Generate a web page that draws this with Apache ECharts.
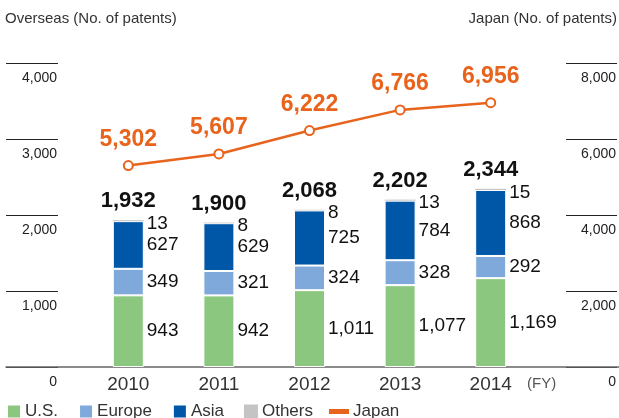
<!DOCTYPE html>
<html>
<head>
<meta charset="utf-8">
<script src="https://cdn.jsdelivr.net/npm/echarts@6/dist/echarts.min.js"></script>
<style>
  html, body { margin: 0; padding: 0; background: #fff; }
  #root { width: 619px; height: 418px; }
</style>
</head>
<body>
<div id="root"></div>
<script>
// data
const years = ['2010', '2011', '2012', '2013', '2014'];
const us = [943, 942, 1011, 1077, 1169];
const europe = [349, 321, 324, 328, 292];
const asia = [627, 629, 725, 784, 868];
const others = [13, 8, 8, 13, 15];
const japan = [5302, 5607, 6222, 6766, 6956];
const leftTicks = [0, 4000, 1000];   // min, max, interval
const rightTicks = [0, 8000, 2000];

const totals = years.map((y, i) => us[i] + europe[i] + asia[i] + others[i]);

const FONT = 'Liberation Sans, Arial, sans-serif';
const ORANGE = '#e8631c';
const fmt = v => Number(v).toLocaleString('en-US');

let root = document.getElementById('root');
let myChart = echarts.init(root);

const segLabel = {
    show: true,
    position: 'right',
    distance: 3,
    fontSize: 19,
    color: '#111',
    fontFamily: FONT,
    formatter: p => fmt(p.value)
};

let option = {
    animation: false,
    textStyle: { fontFamily: FONT },
    title: [
        { text: 'Overseas (No. of patents)', left: 5, top: 11, padding: 0,
          textStyle: { fontSize: 15, fontWeight: 'normal', color: '#333', fontFamily: FONT } },
        { text: 'Japan (No. of patents)', right: 2, top: 11, padding: 0,
          textStyle: { fontSize: 15, fontWeight: 'normal', color: '#333', fontFamily: FONT } }
    ],
    legend: [
        {
            data: ['U.S.', 'Europe', 'Asia', 'Others'],
            left: 6, top: 403, padding: 0,
            itemWidth: 14, itemHeight: 14, itemGap: 20,
            icon: 'rect',
            textStyle: { fontSize: 17, color: '#333', padding: [0, 0, 0, -1] }
        },
        {
            data: [{ name: 'Japan', icon: 'rect' }],
            left: 329, top: 403, padding: 0,
            itemWidth: 18, itemHeight: 3,
            textStyle: { fontSize: 17, color: '#333' }
        }
    ],
    grid: [
        { left: 83, right: 83, top: 63, bottom: 51 },          // bars + line
        { left: 6, width: 52, top: 63, bottom: 51 },           // left stubs
        { left: 566, right: 1, top: 63, bottom: 51 },          // right stubs
        { left: 6, right: 0, top: 63, bottom: 51 }             // baseline
    ],
    xAxis: [
        {
            gridIndex: 0, type: 'category', data: years,
            axisLine: { show: false }, axisTick: { show: false },
            axisLabel: { fontSize: 19, color: '#333', margin: 8 }
        },
        { gridIndex: 1, type: 'value', show: false },
        { gridIndex: 2, type: 'value', show: false },
        {
            gridIndex: 3, type: 'value', min: 0, max: 1,
            axisLine: { show: true, lineStyle: { color: '#666', width: 1.5 } },
            axisTick: { show: false }, axisLabel: { show: false }, splitLine: { show: false }
        }
    ],
    yAxis: [
        { gridIndex: 0, type: 'value', min: leftTicks[0], max: leftTicks[1], show: false },
        { gridIndex: 0, type: 'value', min: rightTicks[0], max: rightTicks[1], show: false },
        {
            gridIndex: 1, type: 'value', position: 'right',
            min: leftTicks[0], max: leftTicks[1], interval: leftTicks[2],
            axisLine: { show: false }, axisTick: { show: false },
            splitLine: { show: true, lineStyle: { color: '#222', width: 1 } },
            axisLabel: {
                inside: true, margin: 1, fontSize: 14, color: '#222',
                verticalAlign: 'top', padding: [8, 0, 0, 0],
                showMaxLabel: true, showMinLabel: true, formatter: fmt
            }
        },
        {
            gridIndex: 2, type: 'value', position: 'right',
            min: rightTicks[0], max: rightTicks[1], interval: rightTicks[2],
            axisLine: { show: false }, axisTick: { show: false },
            splitLine: { show: true, lineStyle: { color: '#222', width: 1 } },
            axisLabel: {
                inside: true, margin: 1, fontSize: 14, color: '#222',
                verticalAlign: 'top', padding: [8, 0, 0, 0],
                showMaxLabel: true, showMinLabel: true, formatter: fmt
            }
        },
        { gridIndex: 3, type: 'value', show: false }
    ],
    graphic: [
        { type: 'text', left: 527, top: 376,
          style: { text: '(FY)', fontSize: 15, fill: '#555', fontFamily: FONT } }
    ],
    series: [
        {
            name: 'total', type: 'bar', xAxisIndex: 0, yAxisIndex: 0,
            data: totals, barWidth: 31, barGap: '-100%', z: 1, silent: true,
            itemStyle: { color: 'rgba(0,0,0,0)' },
            label: {
                show: true, position: 'top', distance: 8,
                fontSize: 22, fontWeight: 'bold', color: '#111', fontFamily: FONT,
                formatter: p => fmt(p.value)
            }
        },
        {
            name: 'U.S.', type: 'bar', stack: 'overseas', barWidth: 31, z: 2,
            data: us, itemStyle: { color: '#8cc77f', borderColor: '#fff', borderWidth: 1 },
            label: segLabel
        },
        {
            name: 'Europe', type: 'bar', stack: 'overseas', barWidth: 31, z: 2,
            data: europe, itemStyle: { color: '#7ea9da', borderColor: '#fff', borderWidth: 1 },
            label: segLabel
        },
        {
            name: 'Asia', type: 'bar', stack: 'overseas', barWidth: 31, z: 2,
            data: asia, itemStyle: { color: '#0057a7', borderColor: '#fff', borderWidth: 1 },
            label: segLabel
        },
        {
            name: 'Others', type: 'bar', stack: 'overseas', barWidth: 31, z: 2,
            data: others, itemStyle: { color: '#c4c4c4' },
            label: Object.assign({}, segLabel, { offset: [0, 3] })
        },
        {
            name: 'Japan', type: 'line', xAxisIndex: 0, yAxisIndex: 1, z: 5,
            data: japan,
            lineStyle: { color: ORANGE, width: 2.5 },
            itemStyle: { color: ORANGE, borderColor: ORANGE, borderWidth: 2.5 },
            symbol: 'emptyCircle', symbolSize: 9,
            label: {
                show: true, position: 'top', distance: 9,
                fontSize: 23, fontWeight: 'bold', color: ORANGE, fontFamily: FONT,
                formatter: p => fmt(p.value)
            }
        }
    ]
};
myChart.setOption(option);
</script>
</body>
</html>
